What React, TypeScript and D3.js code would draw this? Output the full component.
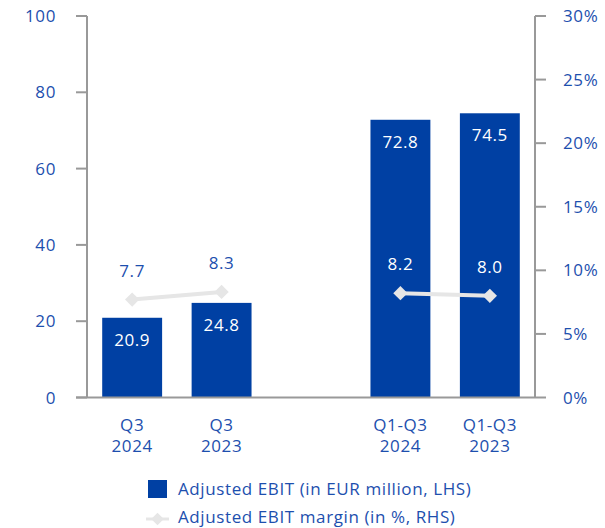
import React from "react";
import * as d3 from "d3";

const categories = ["Q3\n2024", "Q3\n2023", "", "Q1-Q3\n2024", "Q1-Q3\n2023"];
const ebit: (number | null)[] = [20.9, 24.8, null, 72.8, 74.5];
const margin: (number | null)[] = [7.7, 8.3, null, 8.2, 8.0];
const leftTicks = [0, 20, 40, 60, 80, 100];
const rightTicks = [0, 5, 10, 15, 20, 25, 30];
const legendLabels = ["Adjusted EBIT (in EUR million, LHS)", "Adjusted EBIT margin (in %, RHS)"];

const W = 605, H = 528;
const BLUE = "#0040a3";
const TEXT = "#1d4fae";
const GREY = "#e6e6e6";
const AXIS = "#999999";
const FONT = "'Open Sans', 'Noto Sans', sans-serif";

export default function App() {
  const left = 87, right = 535, top = 16, bottom = 397.5;

  const x = d3.scaleBand<string>()
    .domain(categories.map((c, i) => i + ""))
    .range([left, right])
    .paddingInner(0.33)
    .paddingOuter(0.17);
  const yL = d3.scaleLinear().domain([0, 100]).range([bottom, top]);
  const yR = d3.scaleLinear().domain([0, 30]).range([bottom, top]);
  const cx = (i: number) => (x(i + "") as number) + x.bandwidth() / 2;

  const line = d3.line<number | null>()
    .defined((d) => d != null)
    .x((_, i) => cx(i))
    .y((d) => yR(d as number));

  const diamond = d3.symbol().type(d3.symbolDiamond2).size(130)();
  const smallDiamond = d3.symbol().type(d3.symbolDiamond2).size(100)();

  return (
    <svg width={W} height={H} style={{ position: "absolute", left: 0, top: 0 }} fontFamily={FONT} letterSpacing={0.6}>
      {/* bars */}
      {ebit.map((v, i) =>
        v == null ? null : (
          <g key={"b" + i}>
            <rect x={x(i + "")} y={yL(v)} width={x.bandwidth()} height={bottom - yL(v)} fill={BLUE} />
            <text x={cx(i)} y={yL(v) + 28} textAnchor="middle" fontSize={17} fill="#fff">
              {v.toFixed(1)}
            </text>
          </g>
        )
      )}

      {/* axes */}
      <line x1={left} x2={left} y1={top} y2={bottom} stroke={AXIS} strokeWidth={2} />
      <line x1={right} x2={right} y1={top} y2={bottom} stroke={AXIS} strokeWidth={2} />
      <line x1={76} x2={right} y1={bottom} y2={bottom} stroke={AXIS} strokeWidth={2} />
      {leftTicks.map((t) => (
        <g key={"l" + t}>
          <line x1={76} x2={left} y1={yL(t)} y2={yL(t)} stroke={AXIS} strokeWidth={2} />
          <text x={56} y={yL(t) + 6} textAnchor="end" fontSize={17} fill={TEXT}>{t}</text>
        </g>
      ))}
      {rightTicks.map((t) => (
        <g key={"r" + t}>
          <line x1={right} x2={546} y1={yR(t)} y2={yR(t)} stroke={AXIS} strokeWidth={2} />
          <text x={563} y={yR(t) + 6} fontSize={17} fill={TEXT}>{t}%</text>
        </g>
      ))}

      {/* category labels */}
      {categories.map((c, i) =>
        c === "" ? null : (
          <text key={"c" + i} x={cx(i)} textAnchor="middle" fontSize={17} fill={TEXT}>
            {c.split("\n").map((s, j) => (
              <tspan key={j} x={cx(i)} y={431 + j * 21}>{s}</tspan>
            ))}
          </text>
        )
      )}

      {/* margin line */}
      <path d={line(margin) || ""} fill="none" stroke={GREY} strokeWidth={4} />
      {margin.map((v, i) => {
        if (v == null) return null;
        const inBar = ebit[i] != null && yL(ebit[i] as number) < yR(v) - 40;
        return (
          <g key={"m" + i}>
            <path d={diamond || ""} transform={`translate(${cx(i)},${yR(v)})`} fill={GREY} />
            <text x={cx(i)} y={yR(v) - 23} textAnchor="middle" fontSize={17} fill={inBar ? "#fff" : TEXT}>
              {v.toFixed(1)}
            </text>
          </g>
        );
      })}

      {/* legend */}
      <rect x={148} y={480} width={19} height={18} fill={BLUE} />
      <text x={178} y={495} fontSize={17} fill={TEXT}>{legendLabels[0]}</text>
      <line x1={146} x2={169} y1={519} y2={519} stroke={GREY} strokeWidth={3} />
      <path d={smallDiamond || ""} transform="translate(157.5,519)" fill={GREY} />
      <text x={178} y={523} fontSize={17} fill={TEXT}>{legendLabels[1]}</text>
    </svg>
  );
}
